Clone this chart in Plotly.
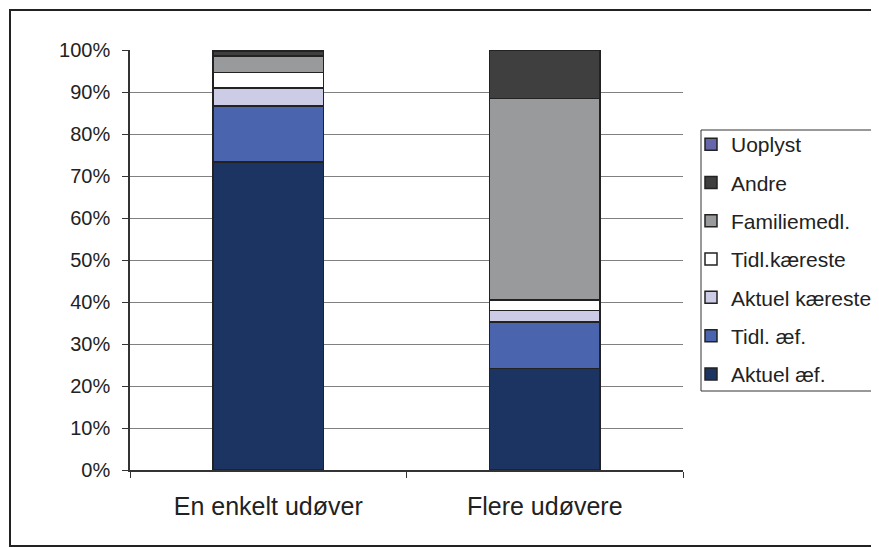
import plotly.graph_objects as go

categories = ["En enkelt udøver", "Flere udøvere"]
series_names = ["Aktuel æf.", "Tidl. æf.", "Aktuel kæreste", "Tidl.kæreste", "Familiemedl.", "Andre", "Uoplyst"]
aktuel_aef = [73.3, 24.2]
tidl_aef = [13.4, 11.0]
aktuel_kaereste = [4.2, 2.8]
tidl_kaereste = [3.8, 2.5]
familiemedl = [3.9, 48.0]
andre = [1.0, 11.5]
uoplyst = [0.4, 0.0]
colors = ["#1c3461", "#4a65ae", "#cccce6", "#ffffff", "#999a9b", "#3f3f40", "#6666aa"]
tick_vals = [0, 10, 20, 30, 40, 50, 60, 70, 80, 90, 100]
tick_text = [f"{v}%" for v in tick_vals]

values = [aktuel_aef, tidl_aef, aktuel_kaereste, tidl_kaereste, familiemedl, andre, uoplyst]

# page body has an 8px margin; figure coordinates = page coordinates - 8
W, H = 871, 539
L, R, T, B = 122, 196, 42, 77
pw, ph = W - L - R, H - T - B


def px(x_page):
    return (x_page - 8 - L) / pw


def py(y_page):
    return (H - B - (y_page - 8)) / ph


fig = go.Figure()
n = len(series_names)
for i, (name, vals, col) in enumerate(zip(series_names, values, colors)):
    fig.add_trace(go.Bar(
        x=categories, y=vals, name=name, legendgroup=name, legendrank=n - i,
        marker=dict(color=col, line=dict(color="#222222", width=1.5)),
    ))

font = "Liberation Sans, Arial, sans-serif"
fig.update_layout(
    barmode="stack",
    bargap=0.6,
    width=W, height=H,
    margin=dict(l=L, r=R, t=T, b=B, autoexpand=False),
    paper_bgcolor="white", plot_bgcolor="white",
    font=dict(family=font, size=20, color="#222222"),
    showlegend=True,
    legend=dict(
        traceorder="grouped", tracegroupgap=8,
        x=px(691), xanchor="left", y=py(124), yanchor="top",
        borderwidth=0, bgcolor="rgba(0,0,0,0)",
        font=dict(size=21, family=font, color="#222222"),
        itemwidth=30,
    ),
    xaxis=dict(
        showline=True, linecolor="#333333", linewidth=1.5,
        ticks="outside", tickson="boundaries", ticklen=6, tickcolor="#333333",
        tickfont=dict(size=25), showgrid=False, ticklabelstandoff=13,
    ),
    yaxis=dict(
        range=[0, 100], tickvals=tick_vals, ticktext=tick_text,
        showline=True, linecolor="#333333", linewidth=1.5,
        ticks="outside", ticklen=6, tickcolor="#333333",
        showgrid=True, gridcolor="#808080", gridwidth=1,
        tickfont=dict(size=20), zeroline=False, ticklabelstandoff=8,
    ),
    shapes=[
        dict(type="rect", xref="paper", yref="paper",
             x0=px(10), x1=px(877), y0=py(546), y1=py(10),
             line=dict(color="#222222", width=2)),
        dict(type="rect", xref="paper", yref="paper",
             x0=px(701), x1=px(874), y0=py(391), y1=py(130),
             line=dict(color="#333333", width=1)),
    ],
)

fig.write_html("out.html")
